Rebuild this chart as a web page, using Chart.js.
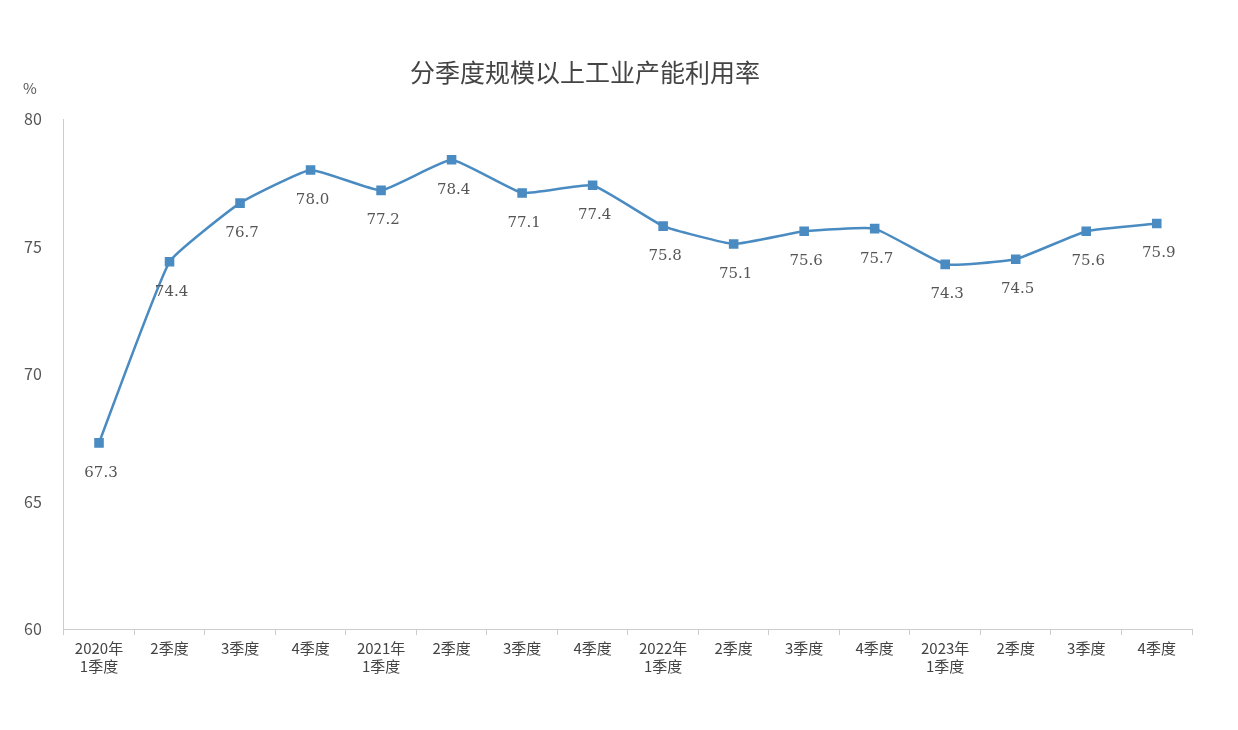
<!DOCTYPE html>
<html>
<head>
<meta charset="utf-8">
<script src="https://cdn.jsdelivr.net/npm/chart.js@4/dist/chart.umd.min.js"></script>
<style>
  html, body { margin: 0; padding: 0; background: #fff; }
  #wrap { width: 1238px; height: 730px; }
</style>
</head>
<body>
<div id="wrap"><canvas id="c"></canvas></div>
<script>
// quarterly labels
const quarters = [
    ['2020年', '1季度'], '2季度', '3季度', '4季度',
    ['2021年', '1季度'], '2季度', '3季度', '4季度',
    ['2022年', '1季度'], '2季度', '3季度', '4季度',
    ['2023年', '1季度'], '2季度', '3季度', '4季度'
];
const utilization = [67.3, 74.4, 76.7, 78.0, 77.2, 78.4, 77.1, 77.4, 75.8, 75.1, 75.6, 75.7, 74.3, 74.5, 75.6, 75.9];
const yTicks = [60, 65, 70, 75, 80];
const chartTitle = '分季度规模以上工业产能利用率';

const cjk = '"Noto Sans CJK SC", "Noto Sans", sans-serif';

// draws title, unit and the value labels under each point
const extras = {
    id: 'extras',
    afterDatasetsDraw(chart) {
        const ctx = chart.ctx;
        ctx.save();
        ctx.fillStyle = '#444';
        ctx.font = '25px ' + cjk;
        ctx.textAlign = 'center';
        ctx.textBaseline = 'middle';
        ctx.fillText(chartTitle, 585, 72);

        ctx.fillStyle = '#555';
        ctx.font = '15px ' + cjk;
        ctx.fillText('%', 30, 88);

        ctx.font = '15px "DejaVu Serif", serif';
        ctx.fillStyle = '#555';
        chart.getDatasetMeta(0).data.forEach((pt, i) => {
            ctx.fillText(utilization[i].toFixed(1), pt.x + 2, pt.y + 30);
        });
        ctx.restore();
    }
};

new Chart(document.getElementById('c'), {
    type: 'line',
    data: {
        labels: quarters,
        datasets: [{
            data: utilization,
            borderColor: '#4a8bc2',
            backgroundColor: '#4a8bc2',
            borderWidth: 2.5,
            pointStyle: 'rect',
            pointRadius: 5,
            tension: 0.12
        }]
    },
    options: {
        responsive: true,
        maintainAspectRatio: false,
        animation: false,
        layout: { padding: { top: 119, left: 10, right: 46, bottom: 51 } },
        plugins: { legend: { display: false }, tooltip: { enabled: false } },
        scales: {
            x: {
                offset: true,
                grid: { display: true, drawOnChartArea: false, color: '#ccc', tickLength: 6, offset: true },
                border: { color: '#ccc' },
                ticks: { color: '#444', font: { family: cjk, size: 15 }, maxRotation: 0, autoSkip: false, padding: 4 }
            },
            y: {
                min: 60, max: 80,
                afterBuildTicks(axis) { axis.ticks = yTicks.map(v => ({ value: v })); },
                grid: { display: false },
                border: { color: '#ccc' },
                ticks: { color: '#555', font: { family: cjk, size: 16 }, padding: 14 }
            }
        }
    },
    plugins: [extras]
});
</script>
</body>
</html>
